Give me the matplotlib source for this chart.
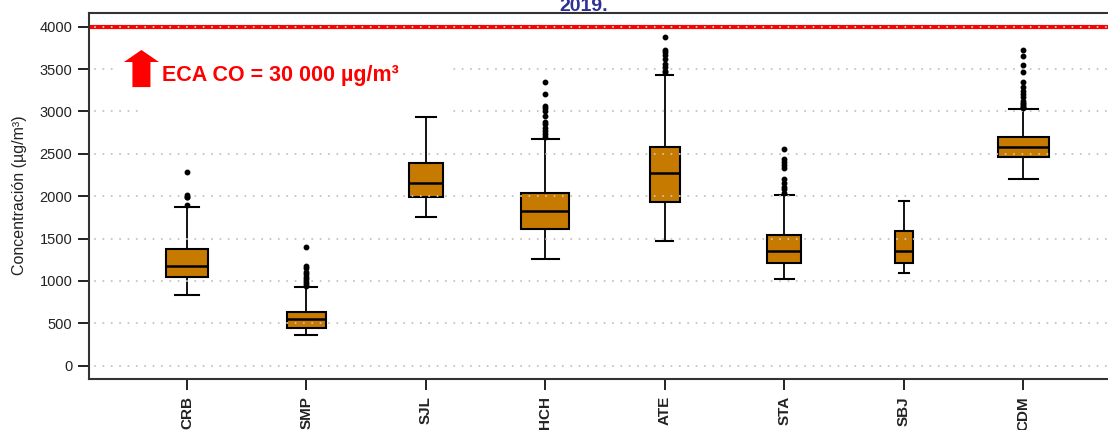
import matplotlib
matplotlib.use("Agg")
import matplotlib.pyplot as plt
from matplotlib.patches import Rectangle, FancyArrow

plt.rcParams['font.family'] = ['Liberation Sans', 'DejaVu Sans']

# Stations and their CO concentration summaries (µg/m³)
stations = ["CRB", "SMP", "SJL", "HCH", "ATE", "STA", "SBJ", "CDM"]
q1 = [1047, 448, 1994, 1610, 1935, 1208, 1208, 2466]
median = [1180, 551, 2152, 1822, 2270, 1353, 1353, 2584]
q3 = [1377, 637, 2395, 2034, 2577, 1542, 1589, 2702]
whisker_low = [831, 359, 1751, 1256, 1468, 1019, 1094, 2199]
whisker_high = [1869, 925, 2931, 2676, 3434, 2014, 1943, 3029]
outliers = [
    [2290, 2010, 1995, 1985, 1900],
    [1395, 1175, 1150, 1110, 1080, 1050, 1020, 990, 960, 940],
    [],
    [3345, 3210, 3065, 3040, 3000, 2950, 2880, 2850, 2810, 2770, 2730, 2700],
    [3875, 3730, 3700, 3660, 3620, 3560, 3530, 3480, 3460],
    [2555, 2440, 2400, 2370, 2330, 2200, 2150, 2110, 2080, 2040],
    [],
    [3720, 3650, 3550, 3460, 3350, 3290, 3240, 3200, 3165, 3125, 3100,
     3085, 3065, 3050, 3040],
]
limit_value = 4000
y_ticks = [0, 500, 1000, 1500, 2000, 2500, 3000, 3500, 4000]

# Box widths scale with sample size
box_widths = [0.348, 0.32, 0.285, 0.40, 0.25, 0.28, 0.15, 0.427]
cap_widths = [w * 0.57 for w in box_widths]
positions = list(range(1, len(stations) + 1))

fig = plt.figure(figsize=(11.08, 4.30), dpi=100)
W, H = 1108, 430
ax = fig.add_axes([89 / W, 1 - 379.3 / H, (1121 - 89) / W, (379.3 - 13.1) / H])

stats = []
for i, name in enumerate(stations):
    stats.append(dict(label=name, med=median[i], q1=q1[i], q3=q3[i],
                      whislo=whisker_low[i], whishi=whisker_high[i],
                      fliers=outliers[i]))

ax.bxp(stats, positions=positions, widths=box_widths, capwidths=cap_widths,
       patch_artist=True, showfliers=True, zorder=1.5,
       boxprops=dict(facecolor='#C77A00', edgecolor='black', linewidth=1.5),
       medianprops=dict(color='black', linewidth=1.8),
       whiskerprops=dict(color='black', linewidth=1.3),
       capprops=dict(color='black', linewidth=1.5),
       flierprops=dict(marker='o', markerfacecolor='black',
                       markeredgecolor='black', markersize=3.2, zorder=3))

# Limit line
ax.axhline(limit_value, color='#FF0000', lw=3, zorder=2)

# Dotted horizontal guides over the boxes
for yv in y_ticks:
    ax.axhline(yv, xmin=0.006, color='#C4C4C4', lw=1.5, ls=(0, (0.01, 4)),
               zorder=2.2, dash_capstyle='round')

# Annotation: background, arrow and label
ax.add_patch(Rectangle((0.385, 3260), 3.205 - 0.385, 3900 - 3260,
                       facecolor='white', edgecolor='none', zorder=2.4))
ax.add_patch(Rectangle((0.603, 2975), 3.205 - 0.603, 3260 - 2975,
                       facecolor='white', edgecolor='none', zorder=2.4))
ax.add_patch(FancyArrow(0.619, 3287, 0, 438, width=0.151, head_width=0.293,
                        head_length=142, length_includes_head=True,
                        color='#FF0000', lw=0, zorder=3))
ax.text(0.795, 3359, "ECA CO = 30 000 µg/m³", color='#FF0000',
        fontsize=15.5, fontweight='bold', ha='left', va='baseline', zorder=3)

ax.set_xlim(0.18, 8.82)
ax.set_ylim(-160, 4160)
ax.set_yticks(y_ticks)
ax.set_yticklabels([str(v) for v in y_ticks], fontsize=10.5, color='#222222')
ax.set_xticks(positions)
ax.set_xticklabels(stations, rotation=90, fontsize=11, fontweight='bold',
                   color='#222222')
ax.tick_params(axis='y', length=8, width=1.4, pad=4, color='#222222')
ax.tick_params(axis='x', length=8, width=1.4, pad=4, color='#222222')

for side in ('left', 'bottom', 'top'):
    ax.spines[side].set_linewidth(1.5)
    ax.spines[side].set_color('#333333')
ax.spines['right'].set_visible(False)

fig.text(20 / W, 1 - 195 / H, "Concentración (µg/m³)", rotation=90,
         ha='center', va='center', fontsize=11.5, color='#222222')
fig.text(584 / W, 1 - 11 / H, "2019.", ha='center', va='baseline',
         color='#2E3192', fontsize=14, fontweight='bold')

fig.savefig("out.png", dpi=100)
